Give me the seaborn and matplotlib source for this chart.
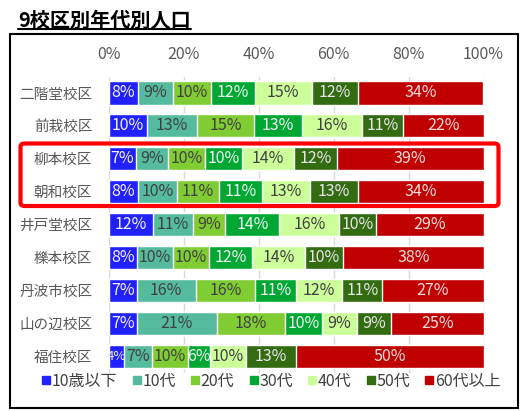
import matplotlib
matplotlib.use("Agg")
import matplotlib.pyplot as plt
import seaborn as sns
import pandas as pd
import numpy as np
from matplotlib.patches import FancyBboxPatch, Rectangle
from matplotlib.lines import Line2D

sns.set_theme(style="white")
plt.rcParams['font.family'] = ['Noto Sans CJK JP', 'DejaVu Sans']

schools = ["二階堂校区", "前栽校区", "柳本校区", "朝和校区", "井戸堂校区",
           "櫟本校区", "丹波市校区", "山の辺校区", "福住校区"]
ages = ["10歳以下", "10代", "20代", "30代", "40代", "50代", "60代以上"]
colors = ["#2121FF", "#55BB9F", "#80CC33", "#00A833", "#CCFF99", "#336B11", "#C00000"]
text_colors = ["#F2F2F2", "#404040", "#404040", "#F2F2F2", "#404040", "#E6E6E6", "#F2DCDC"]

v_under10 = [7.7, 10.2, 7.1, 7.7, 11.8, 7.5, 7.4, 7.4, 4.1]
v_10s = [9.4, 13.4, 8.6, 10.4, 10.6, 9.6, 15.8, 21.4, 7.4]
v_20s = [10.1, 15.2, 9.9, 11.3, 8.7, 9.6, 15.9, 18.2, 9.5]
v_30s = [11.7, 12.9, 10.0, 11.4, 14.4, 11.6, 10.8, 9.9, 5.9]
v_40s = [15.2, 15.9, 13.8, 12.8, 16.0, 14.0, 12.4, 9.3, 9.6]
v_50s = [12.4, 10.9, 11.5, 12.8, 9.8, 10.2, 10.7, 9.2, 13.4]
v_60plus = [33.5, 21.6, 39.1, 33.6, 28.7, 37.5, 27.0, 24.6, 50.1]

series = [v_under10, v_10s, v_20s, v_30s, v_40s, v_50s, v_60plus]

df = pd.DataFrame({a: s for a, s in zip(ages, series)}, index=schools)
share = df.div(df.sum(axis=1), axis=0) * 100
cum = share.cumsum(axis=1)

W, H = 532, 411
fig = plt.figure(figsize=(W / 100, H / 100), dpi=100)
ax = fig.add_axes([109 / W, 1 - 373 / H, (483.5 - 109) / W, (373 - 76.5) / H])

for i in range(len(ages) - 1, -1, -1):
    d = pd.DataFrame({"school": schools, "val": cum[ages[i]].values})
    sns.barplot(data=d, x="val", y="school", color=colors[i], width=0.7,
                saturation=1, ax=ax, orient="h", order=schools, zorder=3)

for i, a in enumerate(ages):
    for j, s in enumerate(schools):
        v = share.loc[s, a]
        c = cum.loc[s, a] - v / 2
        fs = 11.5 if v >= 5 else 9.5
        ax.text(c, j, f"{v:.0f}%", ha="center", va="center", fontsize=fs,
                color=text_colors[i], zorder=5)

ax.set_xlim(0, 100)
ax.set_ylim(len(schools) - 0.5, -0.5)
ax.xaxis.tick_top()
ax.set_xticks(np.arange(0, 101, 20))
ax.set_xticklabels([f"{t}%" for t in range(0, 101, 20)], fontsize=11.5, color="#595959")
ax.tick_params(axis="x", length=0, pad=10)
ax.tick_params(axis="y", length=0, pad=12, labelsize=10.5, labelcolor="#595959")
ax.set_xlabel("")
ax.set_ylabel("")
ax.grid(axis="x", color="#D9D9D9", linewidth=1, zorder=0)
ax.set_axisbelow(True)
for sp in ax.spines.values():
    sp.set_visible(False)

handles = [Line2D([0], [0], marker="s", linestyle="", markersize=5.5,
                  markerfacecolor=c, markeredgecolor=c) for c in colors]


def make_legend(spacing):
    lg = fig.legend(handles, ages, loc="center", bbox_to_anchor=(271.5 / W, 1 - 381 / H),
                    ncol=7, frameon=False, fontsize=11.5, handlelength=0.5,
                    handletextpad=0.1, columnspacing=spacing, borderpad=0)
    for t in lg.get_texts():
        t.set_color("#404040")
    return lg


spacing = 0.7
leg = make_legend(spacing)
fig.canvas.draw()
target = 500 - 42
for _ in range(3):
    w = leg.get_window_extent(renderer=fig.canvas.get_renderer()).width
    em = 11.5 * 100 / 72
    spacing = max(0.1, spacing + (target - w) / 6 / em)
    leg.remove()
    leg = make_legend(spacing)
    fig.canvas.draw()

# outer frame
fig.patches.append(Rectangle((10 / W, 1 - 408 / H), (518 - 10) / W, (408 - 34) / H,
                             transform=fig.transFigure, fill=False,
                             edgecolor="black", linewidth=1.5))
# red highlight box
fig.patches.append(FancyBboxPatch((20.5 / W, 1 - 206 / H), (498.5 - 20.5) / W, (206 - 143.5) / H,
                                  boxstyle="round,pad=0,rounding_size=0.008",
                                  transform=fig.transFigure, fill=False,
                                  edgecolor="#FF0000", linewidth=3, zorder=10))

title = fig.text(18 / W, 1 - 20 / H, "9校区別年代別人口", fontsize=14.5, fontweight="bold",
                 color="black", ha="left", va="center")
fig.canvas.draw()
bb = title.get_window_extent(renderer=fig.canvas.get_renderer())
inv = fig.transFigure.inverted()
(x0, y0), (x1, y1) = inv.transform([(bb.x0, bb.y0), (bb.x1, bb.y0)])
fig.add_artist(Line2D([x0, x1], [y0 + 1 / H, y0 + 1 / H], transform=fig.transFigure,
                      color="black", linewidth=1.5))

fig.savefig("out.png", dpi=100)
